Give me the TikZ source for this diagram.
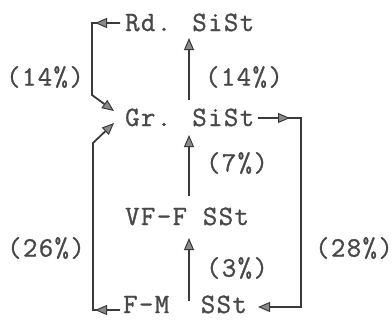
\documentclass[tikz,border=0pt]{standalone}
\usepackage{fontspec}
\newfontfamily\tw{Latin Modern Mono}[LetterSpace=5,FakeBold=1]
\usetikzlibrary{arrows.meta}
\definecolor{ink}{HTML}{3A3A3A}
\definecolor{txt}{HTML}{484848}
\definecolor{headfill}{HTML}{8A8A8A}
\tikzset{
  lbl/.style={font=\tw\fontsize{28}{28}\selectfont, text=txt, inner sep=0pt},
  term/.style={lbl, anchor=base west},
  conn/.style={draw=ink, line width=1.8pt, line join=miter},
  arr/.style={conn, -{Triangle[length=12pt,width=10pt,fill=headfill,line width=1pt]}},
}
\begin{document}
\begin{tikzpicture}[x=1pt,y=-1pt]
\useasboundingbox (0,0) rectangle (392,322);
\node[term] (Rd) at (125,31) {Rd. SiSt};
\node[term] (Gr) at (125,126) {Gr. SiSt};
\node[term] (VF) at (125,225) {VF-F SSt};
\node[term] (FM) at (123,313) {F-M~~SSt};
% percentage labels
\node[lbl] (l14a) at (45,77) {(14\%)};
\node[lbl] (l14b) at (244,77) {(14\%)};
\node[lbl] (l7) at (237,163) {(7\%)};
\node[lbl] (l26) at (46,248) {(26\%)};
\node[lbl] (l3) at (237,268) {(3\%)};
\node[lbl] (l28) at (354,248) {(28\%)};
% coordinates
\coordinate (rdA) at (120,23);
\coordinate (rdH) at (110,23);
\coordinate (rdT) at (95,23);
\coordinate (rdC) at (92,23);
\coordinate (rdD) at (92,95);
\coordinate (grT1) at (114,111);
\coordinate (grT2) at (114,123);
\coordinate (fmC) at (93,310);
\coordinate (fmA) at (120,310);
\coordinate (fmH) at (110,310);
\coordinate (fmT) at (95,310);
\coordinate (fmU) at (93,143);
\coordinate (grE) at (258,118);
\coordinate (grH) at (274,118);
\coordinate (grHt) at (290,118);
\coordinate (rC1) at (301,118);
\coordinate (rC2) at (301,307);
\coordinate (ssT) at (258,307);
\coordinate (v1b) at (189,100);
\coordinate (v1t) at (189,38);
\coordinate (v2b) at (189,196);
\coordinate (v2t) at (189,135);
\coordinate (v3b) at (189,301);
\coordinate (v3t) at (189,238);
% vertical arrows
\draw[arr] (v1b) -- (v1t);
\draw[arr] (v2b) -- (v2t);
\draw[arr] (v3b) -- (v3t);
% left top loop
\draw[arr] (rdA) -- (rdC) -- (rdD) -- (grT1);
\draw[arr] (rdH) -- (rdT);
% left bottom loop
\draw[arr] (fmA) -- (fmC) -- (fmU) -- (grT2);
\draw[arr] (fmH) -- (fmT);
% right loop
\draw[arr] (grE) -- (rC1) -- (rC2) -- (ssT);
\draw[arr] (grH) -- (grHt);
\end{tikzpicture}
\end{document}
